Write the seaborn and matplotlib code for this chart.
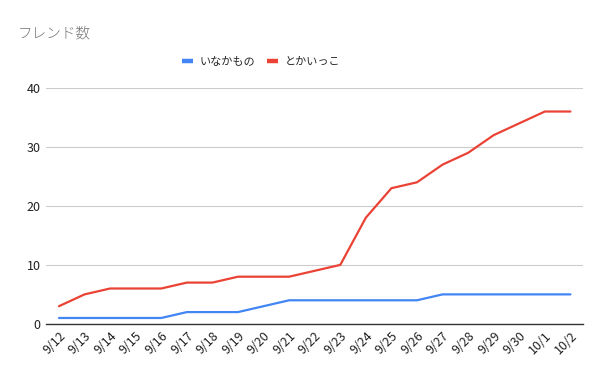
import matplotlib
matplotlib.use("Agg")
import matplotlib.pyplot as plt
import seaborn as sns
import pandas as pd
from matplotlib.lines import Line2D

dates = ["9/12", "9/13", "9/14", "9/15", "9/16", "9/17", "9/18", "9/19", "9/20", "9/21", "9/22",
         "9/23", "9/24", "9/25", "9/26", "9/27", "9/28", "9/29", "9/30", "10/1", "10/2"]
inakamono = [1, 1, 1, 1, 1, 2, 2, 2, 3, 4, 4, 4, 4, 4, 4, 5, 5, 5, 5, 5, 5]
tokaikko = [3, 5, 6, 6, 6, 7, 7, 8, 8, 8, 9, 10, 18, 23, 24, 27, 29, 32, 34, 36, 36]
series_names = ["いなかもの", "とかいっこ"]
colors = ["#4285f4", "#ea4335"]

df = pd.DataFrame({"date": dates, series_names[0]: inakamono, series_names[1]: tokaikko})
long_df = df.melt(id_vars="date", var_name="series", value_name="count")
long_df["x"] = long_df["date"].map({d: i for i, d in enumerate(dates)})

sns.set_style("white")
plt.rcParams["font.family"] = ["Noto Sans CJK JP", "DejaVu Sans"]

fig = plt.figure(figsize=(6, 3.71), dpi=100)
ax = fig.add_axes([0.077, 0.127, 0.895, 0.636])

sns.lineplot(data=long_df, x="x", y="count", hue="series", palette=colors,
             linewidth=1.6, ax=ax, legend=False)

ax.set_xlim(-0.5, len(dates) - 0.5)
ax.set_ylim(0, 40)
ax.set_yticks([0, 10, 20, 30, 40])
ax.set_xticks(range(len(dates)))
ax.set_xticklabels(dates, rotation=45, ha="right", rotation_mode="anchor")
ax.tick_params(axis="both", length=0, labelsize=9, colors="#222222", pad=4)
ax.grid(axis="y", color="#cccccc", linewidth=0.8)
ax.set_axisbelow(True)
for s in ["top", "right", "left"]:
    ax.spines[s].set_visible(False)
ax.spines["bottom"].set_color("#333333")
ax.spines["bottom"].set_linewidth(1.0)
ax.set_xlabel("")
ax.set_ylabel("")

fig.text(0.03, 0.91, "フレンド数", fontsize=10.5, color="#757575", va="center",
         fontweight="light")

handles = [Line2D([0], [0], color=c, linewidth=3.2, solid_capstyle="butt") for c in colors]
fig.legend(handles, series_names, loc="center", bbox_to_anchor=(0.435, 0.833),
           ncol=2, frameon=False, fontsize=8, handlelength=1.0, handletextpad=0.6,
           columnspacing=1.0)

fig.savefig("out.png", dpi=100)
